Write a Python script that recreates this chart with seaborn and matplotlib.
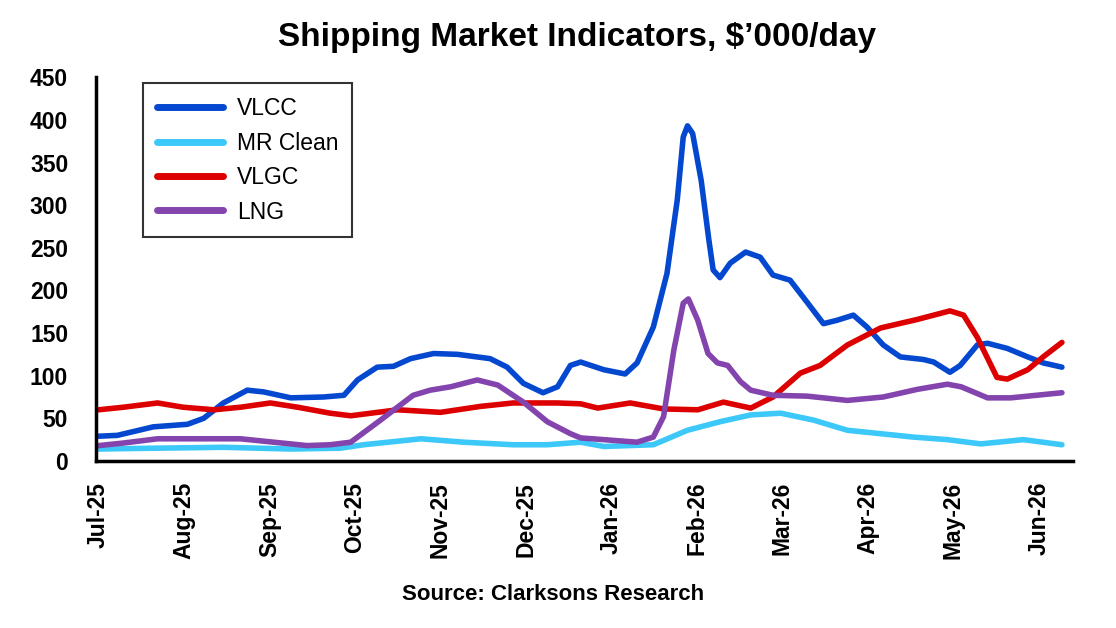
import pandas as pd
import numpy as np
import seaborn as sns
import matplotlib.pyplot as plt

# month labels for x axis (position 0 = Jul-25)
months = ["Jul-25", "Aug-25", "Sep-25", "Oct-25", "Nov-25", "Dec-25",
          "Jan-26", "Feb-26", "Mar-26", "Apr-26", "May-26", "Jun-26"]

# values, x in months since Jul-25, y in $'000/day
vlcc_x = [0.0, 0.22, 0.64, 1.04, 1.23, 1.46, 1.74, 1.93, 2.25, 2.63, 2.87, 3.03, 3.26, 3.45,
          3.65, 3.92, 4.20, 4.58, 4.78, 4.97, 5.20, 5.37, 5.52, 5.64, 5.91, 6.16, 6.30, 6.49,
          6.65, 6.77, 6.84, 6.89, 6.95, 7.05, 7.14, 7.19, 7.27, 7.39, 7.57, 7.74, 7.89, 8.09,
          8.29, 8.48, 8.64, 8.83, 8.99, 9.18, 9.38, 9.65, 9.77, 9.96, 10.08, 10.28, 10.40,
          10.63, 10.87, 11.05, 11.27]
vlcc_y = [29, 30, 40, 43, 50, 68, 83, 81, 74, 75, 77, 95, 110, 111,
          120, 126, 125, 120, 110, 91, 80, 87, 112, 116, 107, 102, 115, 157,
          220, 306, 380, 393, 384, 329, 259, 224, 215, 232, 245, 239, 218, 212,
          186, 161, 165, 171, 157, 136, 122, 119, 116, 104, 112, 136, 138,
          132, 122, 115, 110]

mr_x = [0.0, 0.69, 1.46, 1.86, 2.25, 2.83, 3.10, 3.77, 4.27, 4.85, 5.25, 5.64, 5.91, 6.49,
        6.89, 7.27, 7.63, 7.98, 8.36, 8.76, 9.53, 9.93, 10.32, 10.82, 11.27]
mr_y = [14, 15, 16, 15, 14, 15, 19, 26, 22, 19, 19, 22, 17, 19,
        36, 46, 54, 56, 48, 36, 28, 25, 20, 25, 19]

vlgc_x = [0.0, 0.29, 0.69, 0.99, 1.35, 1.66, 2.01, 2.33, 2.71, 2.95, 3.50, 4.00, 4.47, 4.85,
          5.37, 5.64, 5.84, 6.22, 6.61, 7.01, 7.31, 7.63, 7.89, 8.21, 8.44, 8.76, 9.15, 9.58,
          9.96, 10.12, 10.28, 10.51, 10.63, 10.87, 11.05, 11.27]
vlgc_y = [60, 63, 68, 63, 60, 63, 68, 63, 56, 53, 60, 57, 64, 68,
          68, 67, 62, 68, 61, 60, 69, 62, 75, 103, 112, 136, 156, 166,
          176, 171, 145, 98, 96, 107, 122, 139]

lng_x = [0.0, 0.29, 0.69, 1.08, 1.66, 2.05, 2.44, 2.71, 2.95, 3.30, 3.68, 3.88, 4.12, 4.43,
         4.67, 4.97, 5.25, 5.52, 5.64, 5.91, 6.30, 6.49, 6.61, 6.73, 6.84, 6.90, 7.01, 7.13,
         7.24, 7.36, 7.51, 7.63, 7.89, 8.29, 8.76, 9.18, 9.58, 9.93, 10.09, 10.40, 10.67, 11.27]
lng_y = [18, 21, 26, 26, 26, 22, 18, 19, 22, 48, 77, 83, 87, 95,
         89, 69, 46, 32, 27, 25, 22, 28, 52, 130, 185, 190, 165, 126,
         115, 112, 93, 83, 77, 76, 71, 75, 84, 90, 87, 74, 74, 80]

frames = []
for name, xs, ys in [("VLCC", vlcc_x, vlcc_y), ("MR Clean", mr_x, mr_y),
                     ("VLGC", vlgc_x, vlgc_y), ("LNG", lng_x, lng_y)]:
    frames.append(pd.DataFrame({"month": xs, "rate": ys, "series": name}))
df = pd.concat(frames, ignore_index=True)

colors = {"VLCC": "#0548D0", "MR Clean": "#3CC8F8", "VLGC": "#DD0000", "LNG": "#8444AE"}

sns.set_style("white")
plt.rcParams['font.family'] = ['Liberation Sans', 'DejaVu Sans']
plt.rcParams['text.color'] = 'black'
plt.rcParams['xtick.color'] = 'black'
plt.rcParams['ytick.color'] = 'black'

fig = plt.figure(figsize=(11.16, 6.28), dpi=100)
ax = fig.add_axes([0.086, 0.266, 0.8755, 0.611])

sns.lineplot(data=df, x="month", y="rate", hue="series", palette=colors,
             hue_order=["VLCC", "MR Clean", "VLGC", "LNG"], linewidth=4,
             ax=ax, estimator=None)
for ln in ax.lines:
    ln.set_solid_joinstyle("round")
    ln.set_solid_capstyle("round")

ax.set_xlim(-0.03, 11.40)
ax.set_ylim(0, 450)
ax.set_yticks(range(0, 451, 50))
ax.set_xticks(range(len(months)))
ax.set_xticklabels(months, rotation=90, fontsize=16.5, fontweight="bold")
for lab in ax.get_yticklabels():
    lab.set_fontsize(16.5)
    lab.set_fontweight("bold")
ax.tick_params(axis="y", length=0, pad=20)
ax.tick_params(axis="x", length=0, pad=15)
ax.set_xlabel("")
ax.set_ylabel("")

sns.despine(ax=ax)
for s in ["left", "bottom"]:
    ax.spines[s].set_color("black")
    ax.spines[s].set_linewidth(2.5)

leg = ax.legend(loc="upper left", bbox_to_anchor=(0.048, 0.984), borderaxespad=0,
                fontsize=16.5, frameon=True, fancybox=False, edgecolor="black",
                handlelength=2.9, handletextpad=0.6, labelspacing=0.5, borderpad=0.6)
leg.get_frame().set_linewidth(1.5)
for h in leg.get_lines():
    h.set_linewidth(5)
    h.set_solid_capstyle("round")

fig.suptitle("Shipping Market Indicators, $\u2019000/day", x=0.517, y=0.965,
             fontsize=24, fontweight="bold", color="black")
fig.text(0.496, 0.054, "Source: Clarksons Research", ha="center", va="center",
         fontsize=16, fontweight="bold", color="black")

fig.savefig("out.png", dpi=100)
